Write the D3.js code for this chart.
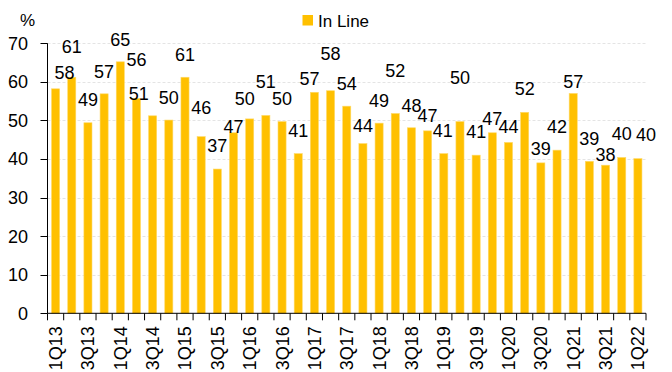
<!DOCTYPE html>
<html>
<head>
<meta charset="utf-8">
<script src="https://cdn.jsdelivr.net/npm/d3@7"></script>
<style>
  body { margin: 0; background: #fff; }
  text { font-family: 'Liberation Sans', Arial, sans-serif; fill: #000; }
</style>
</head>
<body>
<div id="chart"></div>
<script>
// quarters 1Q13 .. 1Q22
var quarters = []
for (var yr = 13; yr <= 22; yr++) for (var q = 1; q <= 4; q++) {
  if (yr == 22 && q > 1) break
  quarters.push(q + 'Q' + yr)
}

var inLine = [
  58.2, 61.2, 49.4, 56.9, 65.2, 55.7, 51.2, 50.1, 61.2, 45.8,
  37.4, 46.8, 50.4, 51.3, 49.7, 41.4, 57.3, 57.7, 53.7, 44.0,
  49.3, 51.8, 48.1, 47.3, 41.4, 49.7, 41.0, 46.8, 44.3, 52.1,
  39.0, 42.3, 57.0, 39.4, 38.4, 40.4, 40.1
]

var yTicks = [0, 10, 20, 30, 40, 50, 60, 70]

// data-label placement (px above bar top, px sideways), mimics the excel layout
var labelLift = [10, 24, 17, 16, 16, 32, 16, 16, 16, 23, 17, 0, 14, 27, 17, 17, 7, 31, 16, 12,
                 16, 37, 16, 9, 17, 38, 17, 8, 9, 17, 8, 17, 5, 16, 4, 17, 18]
var labelShift = {0: 9, 6: -14, 12: -5, 16: -5, 24: -1, 36: 8}

var W = 672, H = 372
var plotL = 47.5, plotR = 646, plotT = 43.3, plotB = 313.3

var svg = d3.select('#chart').append('svg').attr('width', W).attr('height', H)

var x = d3.scaleBand().domain(quarters).range([plotL, plotR]).paddingInner(0.5).paddingOuter(0.25)
var y = d3.scaleLinear().domain([0, 70]).range([plotB, plotT])
var step = x.step()

// gridlines
svg.selectAll('line.grid').data(yTicks.slice(1)).join('line')
  .attr('x1', plotL).attr('x2', plotR)
  .attr('y1', d => Math.round(y(d)) + 0.5).attr('y2', d => Math.round(y(d)) + 0.5)
  .attr('stroke', '#e4e4e4').attr('stroke-dasharray', '3,2')

// bars
svg.selectAll('rect.bar').data(inLine).join('rect')
  .attr('x', (d, i) => x(quarters[i]))
  .attr('width', x.bandwidth())
  .attr('y', d => y(d))
  .attr('height', d => plotB - y(d))
  .attr('fill', '#FFC000')
  .attr('stroke', '#FFD966').attr('stroke-width', 0.6)

// y axis
svg.append('line').attr('x1', plotL).attr('x2', plotL).attr('y1', plotT).attr('y2', plotB)
  .attr('stroke', '#000')
svg.selectAll('line.ytick').data(yTicks).join('line')
  .attr('x1', plotL - 7).attr('x2', plotL)
  .attr('y1', d => Math.round(y(d)) + 0.5).attr('y2', d => Math.round(y(d)) + 0.5)
  .attr('stroke', '#000')
svg.selectAll('text.ytick').data(yTicks).join('text')
  .attr('x', 28).attr('y', d => y(d))
  .attr('dy', '0.36em')
  .attr('text-anchor', 'end')
  .attr('font-size', 18)
  .text(d => d)

// x axis
svg.append('line').attr('x1', plotL).attr('x2', plotR).attr('y1', plotB).attr('y2', plotB)
  .attr('stroke', '#000')
svg.selectAll('line.xtick').data(d3.range(quarters.length + 1)).join('line')
  .attr('x1', i => plotL + i * step).attr('x2', i => plotL + i * step)
  .attr('y1', plotB).attr('y2', plotB + 7)
  .attr('stroke', '#000')
svg.selectAll('text.xtick').data(quarters.filter((d, i) => i % 2 == 0)).join('text')
  .attr('transform', d => `translate(${x(d) + x.bandwidth() / 2},${plotB + 13}) rotate(-90)`)
  .attr('text-anchor', 'end')
  .attr('dy', '0.36em')
  .attr('font-size', 18)
  .text(d => d)

// data labels
svg.selectAll('text.lbl').data(inLine).join('text')
  .attr('x', (d, i) => x(quarters[i]) + x.bandwidth() / 2 + (labelShift[i] || 0))
  .attr('y', (d, i) => y(d) - labelLift[i])
  .attr('text-anchor', 'middle')
  .attr('font-size', 18)
  .text(d => d3.format('.0f')(d))

// unit
svg.append('text').attr('x', 20).attr('y', 26).attr('font-size', 17).text('%')

// legend
svg.append('rect').attr('x', 302.5).attr('y', 15).attr('width', 10.5).attr('height', 10.5)
  .attr('fill', '#FFC000')
svg.append('text').attr('x', 318).attr('y', 27).attr('font-size', 17).text('In Line')
</script>
</body>
</html>
